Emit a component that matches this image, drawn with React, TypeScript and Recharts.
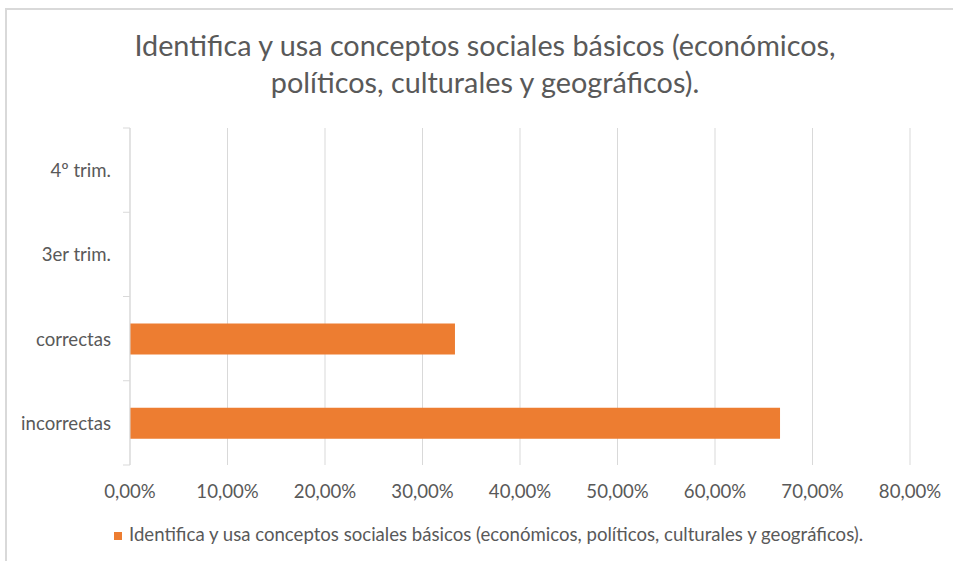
import React from 'react';
import { BarChart, Bar, XAxis, YAxis, CartesianGrid } from 'recharts';

// categories listed top to bottom, as drawn
const categories = ['4º trim.', '3er trim.', 'correctas', 'incorrectas'];
const shares = [null, null, 0.3333, 0.6667];
const xTicks = [0, 0.1, 0.2, 0.3, 0.4, 0.5, 0.6, 0.7, 0.8];
const seriesName =
  'Identifica y usa conceptos sociales básicos (económicos, políticos, culturales y geográficos).';
const titleLines = [
  'Identifica y usa conceptos sociales básicos (económicos,',
  'políticos, culturales y geográficos).',
];

const W = 953;
const H = 561;
const TOP = 128;
const BOTTOM = 465;
const LEFT = 130;
const RIGHT = 910;
const FONT = 'Lato, "Noto Sans", sans-serif';
const FS = 18.6;
const GREY = '#595959';
const LINE = '#d9d9d9';
const ORANGE = '#ED7D31';

const data = categories.map((c, i) => ({ name: c, value: shares[i] }));

const pct = (v: number) => (v * 100).toFixed(2).replace('.', ',') + '%';

const CatTick = (props: any) => {
  const { x, y, payload, index } = props;
  const band = (BOTTOM - TOP) / categories.length;
  const axisX = x + 19;
  const top = y - band / 2;
  return (
    <g>
      <line x1={axisX - 7} x2={axisX} y1={top} y2={top} stroke={LINE} />
      {index === categories.length - 1 && (
        <line x1={axisX - 7} x2={axisX} y1={top + band} y2={top + band} stroke={LINE} />
      )}
      <text x={x} y={y} textAnchor="end" dominantBaseline="central" fill={GREY} fontSize={FS} fontFamily={FONT}>
        {payload.value}
      </text>
    </g>
  );
};

export default function App() {
  return (
    <div style={{ position: 'absolute', left: 0, top: 0, width: W, height: H, overflow: 'hidden', background: '#fff' }}>
      <div
        style={{
          position: 'absolute',
          left: 5,
          top: 8,
          width: 1000,
          height: 700,
          border: `2px solid ${LINE}`,
          boxSizing: 'border-box',
        }}
      />
      <div style={{ position: 'absolute', left: 0, top: 0 }}>
        <BarChart
          width={W}
          height={H}
          data={data}
          layout="vertical"
          margin={{ top: TOP, right: W - RIGHT, bottom: H - BOTTOM - 40, left: 0 }}
          barSize={31}
        >
          <CartesianGrid horizontal={false} stroke={LINE} />
          <XAxis
            type="number"
            domain={[0, 0.8]}
            ticks={xTicks}
            tickFormatter={pct}
            axisLine={false}
            tickLine={false}
            tickSize={0}
            tickMargin={20}
            height={40}
            tick={{ fill: GREY, fontSize: FS, fontFamily: FONT }}
          />
          <YAxis
            type="category"
            dataKey="name"
            width={LEFT}
            axisLine={{ stroke: LINE }}
            tickLine={false}
            tickSize={0}
            tickMargin={19}
            tick={<CatTick />}
          />
          <Bar dataKey="value" name={seriesName} fill={ORANGE} isAnimationActive={false} />
        </BarChart>
      </div>
      <svg width={W} height={H} style={{ position: 'absolute', left: 0, top: 0, pointerEvents: 'none' }}>
        {titleLines.map((t, i) => (
          <text key={i} x={485} y={56 + i * 37} textAnchor="middle" fill={GREY} fontSize={28.8} fontFamily={FONT}>
            {t}
          </text>
        ))}
        <rect x={114} y={532} width={8} height={8} fill={ORANGE} />
        <text x={129} y={541} fill={GREY} fontSize={FS} fontFamily={FONT}>
          {seriesName}
        </text>
      </svg>
    </div>
  );
}
